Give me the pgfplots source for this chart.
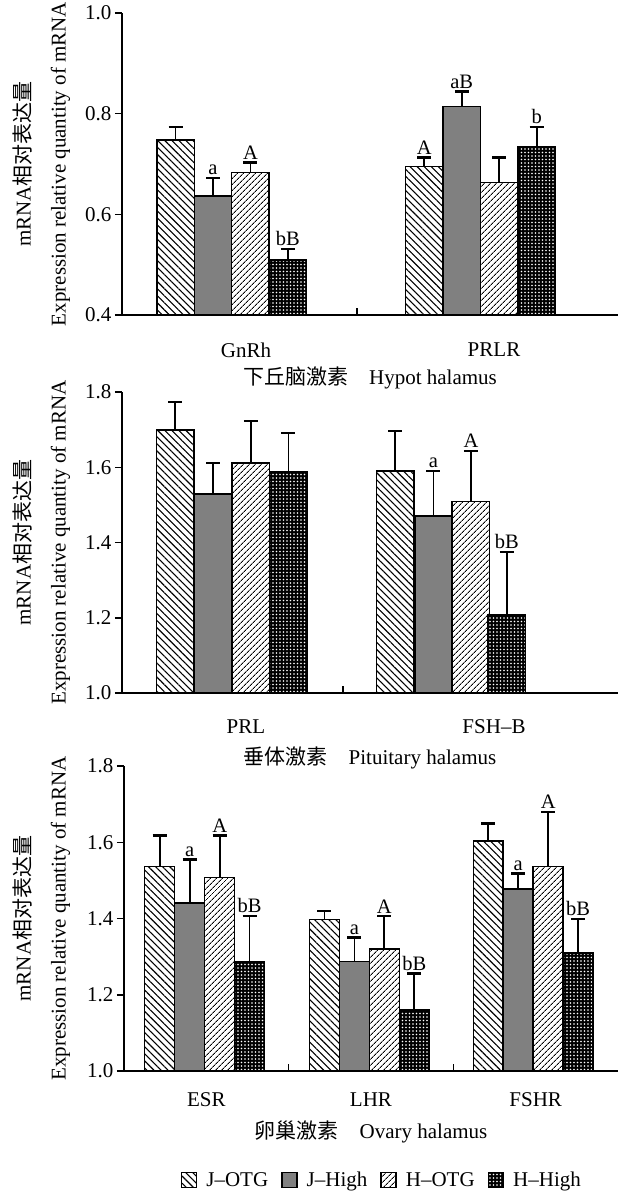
\documentclass[border=0pt]{standalone}
\usepackage{fontspec}
\setmainfont{Liberation Serif}
\newfontfamily\cjk{Noto Sans CJK SC}
\usepackage{pgfplots}
\pgfplotsset{compat=1.18}
\usetikzlibrary{patterns.meta}

\pgfplotsset{
  base/.style={
    scale only axis,
    axis x line*=bottom, axis y line*=left,
    axis line style={line width=1.5pt, black},
    font=\fontsize{21}{25}\selectfont,
    /pgf/number format/assume math mode=true,
    yticklabel style={/pgf/number format/fixed, /pgf/number format/fixed zerofill, /pgf/number format/precision=1},
    ytick align=outside, xtick align=inside,
    major tick length=7pt,
    tick style={line width=1.5pt, black},
    xticklabels={},
    extra x tick style={major tick length=0pt, tick style={draw=none}},
    ylabel style={align=center, anchor=center},
    xlabel style={anchor=center},
    clip=false,
  },
  eb/.style={
    error bars/y dir=plus, error bars/y explicit,
    error bars/error mark=-,
    error bars/error bar style={line width=1.7pt, black},
    error bars/error mark options={rotate=90, line width=2.2pt, mark size=7pt, black},
  },
  lic/.style={legend image code/.code={\draw[##1] (0pt,-7.5pt) rectangle (15pt,7.5pt);}},
  jotg/.style={ybar, bar shift=0pt, draw=black, line width=1.5pt,
    pattern={Lines[angle=-45,distance=5pt,line width=1.1pt]}, pattern color=black, eb, lic},
  jhigh/.style={ybar, bar shift=0pt, draw=black, line width=1.5pt, fill=black!50, eb, lic},
  hotg/.style={ybar, bar shift=0pt, draw=black, line width=1.5pt,
    pattern={Lines[angle=45,distance=4pt,line width=0.9pt]}, pattern color=black, eb, lic},
  hhigh/.style={ybar, bar shift=0pt, draw=black, line width=1.5pt, fill=black,
    postaction={pattern={Dots[radius=0.8pt,distance=3.5pt]}, pattern color=white}, eb, lic},
  lab/.style={forget plot, draw=none, nodes near coords, point meta=explicit symbolic,
    nodes near coords style={anchor=south, inner sep=3pt, font=\fontsize{20.5}{24}\selectfont}},
}

\begin{document}
\begin{tikzpicture}[font=\fontsize{21}{25}\selectfont]
\useasboundingbox (0pt,0pt) rectangle (622pt,-1192pt);

% ---------- Panel 1 ----------
\begin{axis}[base,
  at={(122pt,-315pt)}, anchor=south west, width=496pt, height=302pt,
  xmin=0, xmax=2, ymin=0.4, ymax=1.0, ytick={0.4,0.6,0.8,1.0},
  xtick={0.948},
  extra x ticks={0.5,1.5}, extra x tick labels={GnRh,PRLR},
  xticklabel style={anchor=center, yshift=-35pt},
  xlabel={{\cjk 下丘脑激素}\quad Hypot halamus},
  xlabel style={at={(axis description cs:0.5,-0.2086)}},
  ylabel={mRNA{\cjk 相对表达量}\\[10pt]Expression relative quantity of mRNA},
  ylabel style={at={(axis description cs:-0.1623,0.5)}},
  bar width=0.151,
]
\addplot[jotg]  coordinates {(0.216,0.748) +- (0,0.026) (1.219,0.695) +- (0,0.018)};
\addplot[jhigh] coordinates {(0.367,0.636) +- (0,0.036) (1.370,0.814) +- (0,0.030)};
\addplot[hotg]  coordinates {(0.518,0.683) +- (0,0.020) (1.521,0.663) +- (0,0.050)};
\addplot[hhigh] coordinates {(0.669,0.509) +- (0,0.022) (1.672,0.734) +- (0,0.039)};
\addplot[lab] coordinates {(0.367,0.672)[a] (0.518,0.703)[A] (0.669,0.531)[bB]
  (1.219,0.713)[A] (1.370,0.844)[aB] (1.672,0.773)[b]};
\end{axis}

% ---------- Panel 2 ----------
\begin{axis}[base,
  at={(122pt,-693pt)}, anchor=south west, width=496pt, height=301pt,
  xmin=0, xmax=2, ymin=1.0, ymax=1.8, ytick={1.0,1.2,1.4,1.6,1.8},
  xtick={0.891},
  extra x ticks={0.5,1.5}, extra x tick labels={PRL,FSH--B},
  xticklabel style={anchor=center, yshift=-34pt},
  xlabel={{\cjk 垂体激素}\quad Pituitary halamus},
  xlabel style={at={(axis description cs:0.5,-0.216)}},
  ylabel={mRNA{\cjk 相对表达量}\\[10pt]Expression relative quantity of mRNA},
  ylabel style={at={(axis description cs:-0.1623,0.5)}},
  bar width=0.151,
]
\addplot[jotg]  coordinates {(0.214,1.699) +- (0,0.075) (1.101,1.590) +- (0,0.106)};
\addplot[jhigh] coordinates {(0.367,1.529) +- (0,0.083) (1.256,1.470) +- (0,0.120)};
\addplot[hotg]  coordinates {(0.520,1.612) +- (0,0.111) (1.407,1.509) +- (0,0.135)};
\addplot[hhigh] coordinates {(0.671,1.587) +- (0,0.105) (1.552,1.207) +- (0,0.167)};
\addplot[lab] coordinates {(1.256,1.590)[a] (1.407,1.644)[A] (1.552,1.374)[bB]};
\end{axis}

% ---------- Panel 3 ----------
\begin{axis}[base,
  at={(124pt,-1071pt)}, anchor=south west, width=494pt, height=305pt,
  xmin=0, xmax=3, ymin=1.0, ymax=1.8, ytick={1.0,1.2,1.4,1.6,1.8},
  xtick={1,2},
  extra x ticks={0.5,1.5,2.5}, extra x tick labels={ESR,LHR,FSHR},
  xticklabel style={anchor=center, yshift=-29pt},
  xlabel={{\cjk 卵巢激素}\quad Ovary halamus},
  xlabel style={at={(axis description cs:0.5,-0.2)}},
  ylabel={mRNA{\cjk 相对表达量}\\[10pt]Expression relative quantity of mRNA},
  ylabel style={at={(axis description cs:-0.167,0.5)}},
  bar width=0.182,
  legend style={at={(axis description cs:0.522,-0.357)}, anchor=center, draw=none,
    legend columns=4, font=\fontsize{21}{25}\selectfont,
    /tikz/every odd column/.append style={column sep=7pt},
    /tikz/every even column/.append style={column sep=11pt}},
  legend cell align=left,
]
\addplot[jotg]  coordinates {(0.217,1.536) +- (0,0.082) (1.217,1.398) +- (0,0.022) (2.212,1.603) +- (0,0.046)};
\addplot[jhigh] coordinates {(0.399,1.441) +- (0,0.114) (1.399,1.287) +- (0,0.063) (2.394,1.477) +- (0,0.041)};
\addplot[hotg]  coordinates {(0.581,1.507) +- (0,0.111) (1.581,1.320) +- (0,0.086) (2.576,1.536) +- (0,0.144)};
\addplot[hhigh] coordinates {(0.763,1.287) +- (0,0.119) (1.763,1.160) +- (0,0.096) (2.758,1.309) +- (0,0.089)};
\legend{J--OTG, J--High, H--OTG, H--High}
\addplot[lab] coordinates {(0.399,1.555)[a] (1.399,1.350)[a] (2.394,1.518)[a]
  (0.581,1.618)[A] (1.581,1.406)[A] (2.576,1.680)[A]
  (0.763,1.406)[bB] (1.763,1.256)[bB] (2.758,1.398)[bB]};
\end{axis}
\end{tikzpicture}
\end{document}
